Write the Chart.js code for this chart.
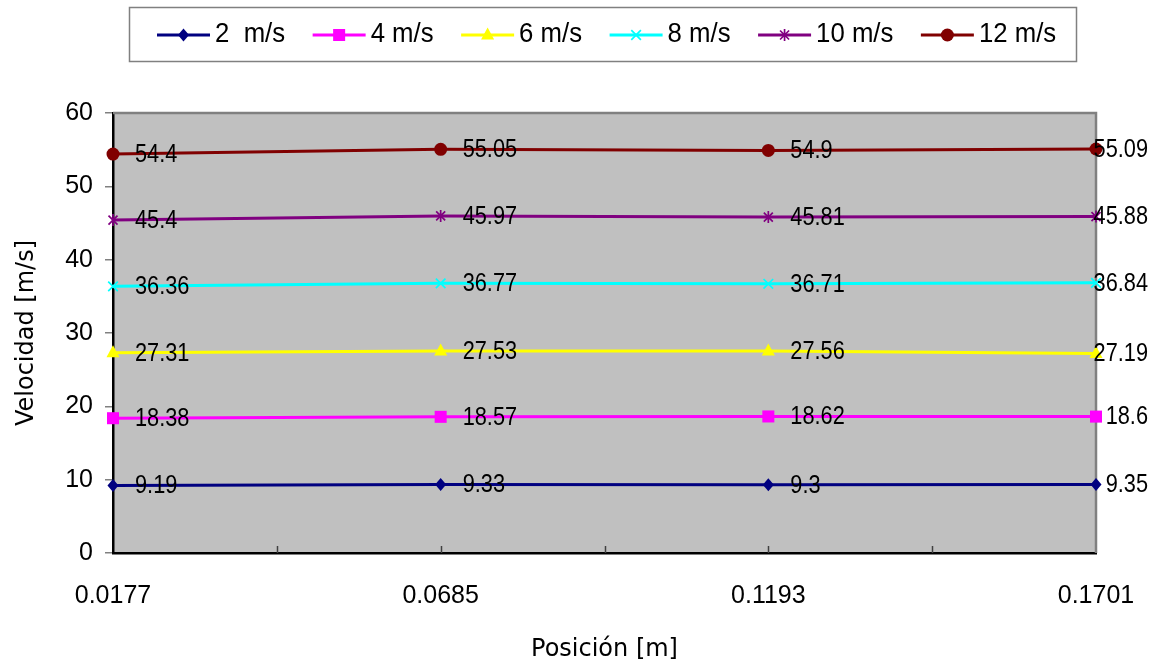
<!DOCTYPE html>
<html><head><meta charset="utf-8">
<script src="https://cdn.jsdelivr.net/npm/chart.js@4/dist/chart.umd.min.js"></script>
<style>html,body{margin:0;padding:0;background:#fff}#wrap{width:1158px;height:666px}</style>
</head><body><div id="wrap"><canvas id="c" width="1158" height="666"></canvas></div>
<script>
// ---- data ----
const positions = ['0.0177', '0.0685', '0.1193', '0.1701'];
const seriesNames = ['2  m/s', '4 m/s', '6 m/s', '8 m/s', '10 m/s', '12 m/s'];
const v2 = [9.19, 9.33, 9.3, 9.35];
const v4 = [18.38, 18.57, 18.62, 18.6];
const v6 = [27.31, 27.53, 27.56, 27.19];
const v8 = [36.36, 36.77, 36.71, 36.84];
const v10 = [45.4, 45.97, 45.81, 45.88];
const v12 = [54.4, 55.05, 54.9, 55.09];
const yMin = 0, yMax = 60, yStep = 10;

// ---- styles ----
const colors = ['#000080', '#FF00FF', '#FFFF00', '#00FFFF', '#800080', '#800000'];
const markers = ['rectRot', 'rect', 'triangle', 'crossRot', 'star', 'circle'];
const markerR = [6.5, 8.5, 7.5, 6, 6, 6.5];
const seriesValues = [v2, v4, v6, v8, v10, v12];

function drawMarker(ctx, style, x, y, r, color) {
  ctx.save();
  ctx.fillStyle = color; ctx.strokeStyle = color; ctx.lineWidth = 1.7;
  ctx.beginPath();
  if (style === 'rectRot') {
    ctx.moveTo(x, y - r); ctx.lineTo(x + r * 0.85, y); ctx.lineTo(x, y + r); ctx.lineTo(x - r * 0.85, y); ctx.closePath(); ctx.fill();
  } else if (style === 'rect') {
    const s = r * Math.SQRT1_2; ctx.rect(x - s, y - s, 2 * s, 2 * s); ctx.fill();
  } else if (style === 'triangle') {
    ctx.moveTo(x, y - r); ctx.lineTo(x + r * 0.87, y + r * 0.6); ctx.lineTo(x - r * 0.87, y + r * 0.6); ctx.closePath(); ctx.fill();
  } else if (style === 'crossRot') {
    const s = r * 0.8;
    ctx.moveTo(x - s, y - s); ctx.lineTo(x + s, y + s); ctx.moveTo(x + s, y - s); ctx.lineTo(x - s, y + s); ctx.stroke();
  } else if (style === 'star') {
    const s = r * 0.75;
    ctx.moveTo(x - s, y - s); ctx.lineTo(x + s, y + s); ctx.moveTo(x + s, y - s); ctx.lineTo(x - s, y + s);
    ctx.moveTo(x, y - r); ctx.lineTo(x, y + r); ctx.stroke();
  } else {
    ctx.arc(x, y, r, 0, Math.PI * 2); ctx.fill();
  }
  ctx.restore();
}

const datasets = seriesNames.map((n, i) => ({
  label: n,
  data: seriesValues[i],
  borderColor: colors[i],
  backgroundColor: colors[i],
  borderWidth: 3,
  tension: 0,
  pointRadius: 0,
  pointHoverRadius: 0,
  fill: false
}));

const bgPlugin = {
  id: 'bg',
  beforeDraw(chart) {
    const { ctx, chartArea: a } = chart;
    ctx.save(); ctx.fillStyle = '#C0C0C0';
    ctx.fillRect(a.left, a.top, a.right - a.left, a.bottom - a.top);
    ctx.restore();
  },
  beforeDatasetsDraw(chart) {
    const { ctx, chartArea: a } = chart;
    ctx.save();
    ctx.strokeStyle = '#808080'; ctx.lineWidth = 2.5;
    ctx.beginPath(); ctx.moveTo(a.left, a.top); ctx.lineTo(a.right, a.top); ctx.lineTo(a.right, a.bottom); ctx.stroke();
    const xs = chart.scales.x;
    ctx.strokeStyle = '#404040'; ctx.lineWidth = 1.5;
    for (let i = 0; i < positions.length - 1; i++) {
      const p0 = xs.getPixelForTick(i), p1 = xs.getPixelForTick(i + 1);
      const pts = [(p0 + p1) / 2];
      if (i > 0) pts.push(p0);
      pts.forEach(px => { ctx.beginPath(); ctx.moveTo(Math.round(px) + 0.5, a.bottom); ctx.lineTo(Math.round(px) + 0.5, a.bottom - 7); ctx.stroke(); });
    }
    ctx.restore();
  },
  afterDatasetsDraw(chart) {
    const { ctx } = chart;
    chart.data.datasets.forEach((ds, i) => {
      chart.getDatasetMeta(i).data.forEach(pt => drawMarker(ctx, markers[i], pt.x, pt.y, markerR[i], colors[i]));
    });
    ctx.save();
    ctx.fillStyle = '#000'; ctx.textBaseline = 'middle'; ctx.textAlign = 'left';
    ctx.font = '25px "Liberation Sans", Arial, sans-serif';
    const sx = 0.87;
    chart.data.datasets.forEach((ds, i) => {
      chart.getDatasetMeta(i).data.forEach((pt, j) => {
        const t = String(ds.data[j]);
        const w = ctx.measureText(t).width * sx;
        const left = Math.min(pt.x + 22, 1148 - w);
        ctx.save(); ctx.translate(left, pt.y + 1); ctx.scale(sx, 1); ctx.fillText(t, 0, 0); ctx.restore();
      });
    });
    ctx.restore();
  },
  afterDraw(chart) {
    const { ctx } = chart;
    ctx.save();
    ctx.fillStyle = '#fff'; ctx.fillRect(129, 7, 948, 55);
    ctx.strokeStyle = '#808080'; ctx.lineWidth = 1.5;
    ctx.strokeRect(129.5, 7.5, 947, 54);
    ctx.font = '28px "Liberation Sans", Arial, sans-serif';
    ctx.textBaseline = 'middle'; ctx.textAlign = 'left';
    const sx = 0.92;
    let x = 157; const y = 35;
    seriesNames.forEach((n, i) => {
      ctx.strokeStyle = colors[i]; ctx.lineWidth = 3;
      ctx.beginPath(); ctx.moveTo(x, y); ctx.lineTo(x + 53, y); ctx.stroke();
      drawMarker(ctx, markers[i], x + 26.5, y, markerR[i], colors[i]);
      ctx.fillStyle = '#000';
      const w = ctx.measureText(n).width * sx;
      ctx.save(); ctx.translate(x + 58, y - 0.5); ctx.scale(sx, 1); ctx.fillText(n, 0, 0); ctx.restore();
      x += 58 + w + 27.5;
    });
    ctx.restore();
  }
};

new Chart(document.getElementById('c'), {
  type: 'line',
  data: { labels: positions, datasets },
  plugins: [bgPlugin],
  options: {
    responsive: false,
    devicePixelRatio: 1,
    animation: false,
    events: [],
    layout: { padding: { top: 113, right: 62, left: 0, bottom: 0 } },
    plugins: { legend: { display: false }, tooltip: { enabled: false }, title: { display: false } },
    scales: {
      x: {
        type: 'category',
        offset: false,
        grid: { display: false, drawTicks: false },
        border: { display: true, color: '#000', width: 2.5 },
        ticks: { color: '#000', font: { family: '"Liberation Sans", Arial, sans-serif', size: 25 }, padding: 28, maxRotation: 0, autoSkip: false },
        title: { display: true, text: 'Posición [m]', color: '#000', font: { family: '"DejaVu Sans", sans-serif', size: 24 }, padding: { top: 0, bottom: 2 } },
        afterFit(s) { s.height = 113; s.paddingRight = 0; s.paddingLeft = 0; }
      },
      y: {
        min: yMin, max: yMax,
        grid: { drawOnChartArea: false, drawTicks: true, tickLength: 8, color: '#808080', lineWidth: 1.5 },
        border: { display: true, color: '#000', width: 2.5 },
        ticks: { stepSize: yStep, color: '#000', font: { family: '"Liberation Sans", Arial, sans-serif', size: 25 }, padding: 12 },
        title: { display: true, text: 'Velocidad [m/s]', color: '#000', font: { family: '"DejaVu Sans", sans-serif', size: 24 }, padding: { top: 12, bottom: 0 } },
        afterFit(s) { s.width = 113; }
      }
    }
  }
});
</script></body></html>
